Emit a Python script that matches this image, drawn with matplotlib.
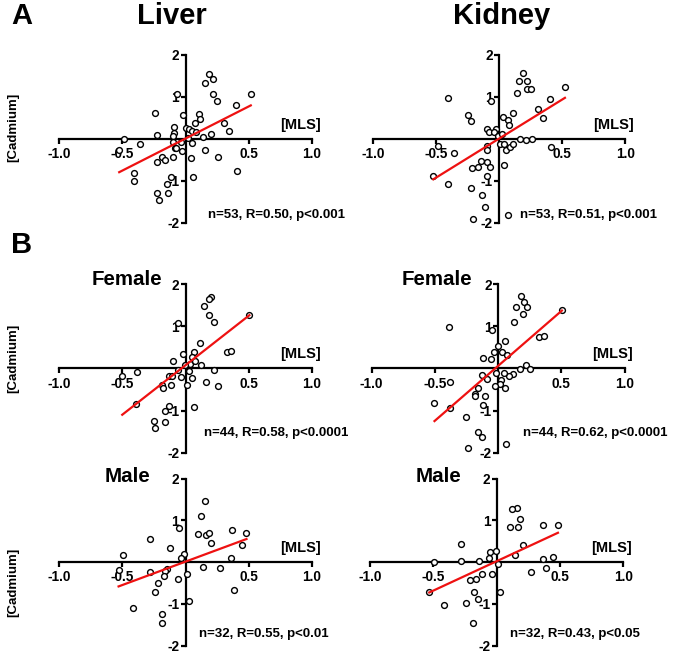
import numpy as np
import matplotlib
matplotlib.use("Agg")
import matplotlib.pyplot as plt

plt.rcParams['font.family'] = ['Liberation Sans', 'DejaVu Sans']
plt.rcParams['font.weight'] = 'bold'

#---- Donnees : [MLS] (x) et [Cadmium] (y)

liver_all_x = [0.187, 0.216, 0.155, -0.066, 0.216, 0.25, 0.516, 0.40, -0.245, -0.02,
               0.105, 0.113, 0.308, 0.347, -0.089, -0.089, -0.224, 0.0, 0.03, 0.076,
               0.053, 0.082, 0.205, 0.142, -0.484, -0.524, -0.358, -0.097, -0.097, -0.084,
               -0.03, -0.037, 0.02, 0.053, -0.074, 0.158, 0.258, -0.097, -0.187, -0.166,
               -0.224, 0.04, 0.41, -0.408, -0.408, -0.116, 0.06, -0.147, -0.139, -0.229,
               -0.21]
liver_all_y = [1.55, 1.43, 1.34, 1.06, 1.07, 0.91, 1.07, 0.81, 0.63, 0.58,
               0.59, 0.48, 0.39, 0.20, 0.28, 0.15, 0.10, 0.26, 0.25, 0.38,
               0.19, 0.17, 0.11, 0.04, -0.01, -0.26, -0.13, 0.06, -0.06, -0.22,
               -0.28, -0.06, 0.02, -0.10, -0.21, -0.26, -0.43, -0.42, -0.44, -0.49,
               -0.55, -0.46, -0.75, -0.82, -1.01, -0.90, -0.91, -1.07, -1.29, -1.29,
               -1.46]

kidney_all_x = [0.193, 0.158, 0.222, 0.219, 0.256, 0.145, 0.522, -0.406, -0.061, 0.404,
                0.311, 0.351, 0.113, -0.245, -0.222, 0.032, 0.069, 0.079, -0.098, -0.082,
                -0.026, -0.037, -0.011, 0.026, 0.164, 0.211, 0.264, -0.48, -0.354, -0.098,
                -0.092, 0.011, 0.037, 0.058, 0.09, 0.113, 0.414, -0.142, -0.169, -0.216,
                -0.098, -0.069, 0.042, -0.52, -0.406, -0.222, -0.098, -0.132, -0.111, -0.203,
                0.069]
kidney_all_y = [1.56, 1.39, 1.39, 1.20, 1.20, 1.10, 1.25, 0.98, 0.91, 0.96,
                0.72, 0.50, 0.63, 0.56, 0.44, 0.52, 0.45, 0.33, 0.25, 0.17,
                0.25, 0.17, 0.06, 0.11, 0.01, -0.02, -0.01, -0.16, -0.33, -0.17,
                -0.25, -0.11, -0.13, -0.27, -0.20, -0.13, -0.20, -0.52, -0.67, -0.70,
                -0.54, -0.67, -0.63, -0.88, -1.08, -1.17, -0.87, -1.33, -1.63, -1.90,
                -1.80]

liver_fem_x = [0.205, 0.182, 0.147, 0.189, 0.226, 0.505, -0.058, 0.116, 0.326, 0.358,
               -0.016, 0.066, 0.053, -0.097, 0.032, 0.079, 0.121, -0.005, -0.058, 0.024,
               0.224, -0.505, -0.382, -0.134, -0.103, -0.032, 0.05, 0.166, 0.255, -0.184,
               -0.176, -0.118, 0.013, -0.39, -0.129, -0.163, 0.066, -0.25, -0.24, -0.161]
liver_fem_y = [1.70, 1.65, 1.49, 1.26, 1.10, 1.26, 1.07, 0.59, 0.39, 0.42,
               0.33, 0.39, 0.26, 0.17, 0.11, 0.17, 0.07, 0.09, -0.04, -0.06,
               -0.04, -0.18, -0.09, -0.17, -0.18, -0.20, -0.22, -0.32, -0.43, -0.39,
               -0.47, -0.40, -0.40, -0.84, -0.89, -1.02, -0.91, -1.25, -1.42, -1.28]

kidney_fem_x = [0.183, 0.209, 0.146, 0.227, 0.194, 0.125, 0.505, -0.386, -0.051, 0.328,
                0.362, 0.057, 0.0, -0.033, 0.034, 0.07, -0.115, -0.057, 0.225, 0.175,
                0.256, 0.12, 0.086, 0.051, -0.014, 0.022, 0.015, -0.025, 0.054, -0.13,
                -0.09, -0.383, -0.502, -0.383, -0.162, -0.18, -0.182, -0.099, -0.117, -0.252,
                -0.16, -0.128, 0.064, -0.24]
kidney_fem_y = [1.72, 1.57, 1.46, 1.46, 1.30, 1.10, 1.38, 0.99, 0.92, 0.74,
                0.77, 0.66, 0.52, 0.38, 0.39, 0.32, 0.25, 0.21, 0.07, -0.02,
                -0.02, -0.13, -0.17, -0.12, -0.12, -0.27, -0.36, -0.42, -0.47, -0.15,
                -0.25, -0.32, -0.81, -0.95, -0.47, -0.60, -0.66, -0.66, -0.86, -1.15,
                -1.50, -1.62, -1.79, -1.90]

liver_male_x = [0.155, 0.121, -0.05, 0.10, 0.166, 0.182, 0.366, 0.482, -0.282, 0.20,
                0.445, -0.121, -0.495, -0.01, -0.034, 0.361, 0.139, 0.271, -0.529, -0.284,
                -0.147, -0.161, -0.168, 0.013, -0.061, -0.216, -0.242, 0.387, 0.024, -0.418,
                -0.184, -0.187]
liver_male_y = [1.45, 1.11, 0.81, 0.66, 0.64, 0.70, 0.76, 0.70, 0.54, 0.46,
                0.41, 0.33, 0.17, 0.20, 0.10, 0.09, -0.11, -0.14, -0.20, -0.24,
                -0.17, -0.21, -0.34, -0.29, -0.40, -0.51, -0.71, -0.68, -0.94, -1.10,
                -1.24, -1.47]

kidney_male_x = [0.161, 0.124, 0.184, 0.103, 0.171, 0.368, 0.484, -0.279, 0.205, -0.05,
                 -0.008, -0.058, 0.142, 0.363, 0.447, -0.492, -0.284, -0.137, 0.011, 0.389,
                 0.274, -0.116, -0.037, -0.213, -0.161, -0.532, 0.029, -0.182, -0.15, -0.24,
                 -0.413, -0.184]
kidney_male_y = [1.29, 1.26, 1.03, 0.83, 0.83, 0.89, 0.88, 0.43, 0.40, 0.24,
                 0.26, 0.09, 0.16, 0.06, 0.12, 0.0, 0.03, 0.02, -0.04, -0.14,
                 -0.24, -0.28, -0.28, -0.44, -0.40, -0.71, -0.73, -0.73, -0.89, -0.99,
                 -1.04, -1.45]

#---- Droites de regression (extremites)
fit_x = [[-0.524, 0.516], [-0.52, 0.522],
         [-0.50, 0.505], [-0.502, 0.505],
         [-0.529, 0.482], [-0.532, 0.484]]
fit_y = [[-0.79, 0.80], [-0.96, 0.98],
         [-1.10, 1.26], [-1.25, 1.37],
         [-0.585, 0.55], [-0.73, 0.70]]

stats = ["n=53, R=0.50, p<0.001", "n=53, R=0.51, p<0.001",
         "n=44, R=0.58, p<0.0001", "n=44, R=0.62, p<0.0001",
         "n=32, R=0.55, p<0.01", "n=32, R=0.43, p<0.05"]
subtitles = [None, None, "Female", "Female", "Male", "Male"]

panels_x = [liver_all_x, kidney_all_x, liver_fem_x, kidney_fem_x, liver_male_x, kidney_male_x]
panels_y = [liver_all_y, kidney_all_y, liver_fem_y, kidney_fem_y, liver_male_y, kidney_male_y]

#---- Mise en page : axes en pixels x(-1), x(1), y(2), y(-2)
W, H = 684, 655
boxes = [(59, 312, 55, 223), (372.7, 625.3, 55, 223),
         (59, 312, 284, 452.7), (371.5, 624.5, 284, 452.7),
         (59, 312, 478.5, 645.5), (370, 623.3, 478.5, 645.5)]
stats_pos = [(0.18, -1.81), (0.17, -1.81),
             (0.15, -1.53), (0.20, -1.53),
             (0.11, -1.72), (0.105, -1.72)]
sub_pos = [None, None, (-0.46, 2.1), (-0.48, 2.1), (-0.46, 2.04), (-0.46, 2.04)]

fig = plt.figure(figsize=(W / 100, H / 100), dpi=100)

for i in range(6):
    x0, x1, yt, yb = boxes[i]
    ax = fig.add_axes([x0 / W, 1 - yb / H, (x1 - x0) / W, (yb - yt) / H])
    ax.set_xlim(-1, 1)
    ax.set_ylim(-2, 2)
    ax.patch.set_alpha(0)

    for s in ['top', 'right']:
        ax.spines[s].set_visible(False)
    ax.spines['left'].set_position('zero')
    ax.spines['bottom'].set_position('zero')
    ax.spines['left'].set_linewidth(1.6)
    ax.spines['bottom'].set_linewidth(1.6)

    ax.set_xticks([-1.0, -0.5, 0.5, 1.0])
    ax.set_xticklabels(["-1.0", "-0.5", "0.5", "1.0"])
    ax.set_yticks([-2, -1, 1, 2])
    ax.set_yticklabels(["-2", "-1", "1", "2"])
    ax.tick_params(axis='x', direction='out', length=3.5, width=1.6, pad=2.5, labelsize=9.8)
    ax.tick_params(axis='y', direction='out', length=3.5, width=1.6, pad=1, labelsize=9.8)
    for lab in ax.get_xticklabels() + ax.get_yticklabels():
        lab.set_fontweight('bold')

    ax.plot(panels_x[i], panels_y[i], 'o', ms=4.2, mfc='white', mec='black',
            mew=1.0, zorder=3, clip_on=False)
    ax.plot(fit_x[i], fit_y[i], '-', color='#ee1111', lw=1.6, zorder=4, clip_on=False)

    ax.text(1.07, 0.17, "[MLS]", ha='right', va='bottom', fontsize=10.5,
            fontweight='bold', clip_on=False)
    ax.text(stats_pos[i][0], stats_pos[i][1], stats[i], ha='left', va='center',
            fontsize=9.5, fontweight='bold', clip_on=False)
    if subtitles[i] is not None:
        ax.text(sub_pos[i][0], sub_pos[i][1], subtitles[i], ha='center', va='center',
                fontsize=14.8, fontweight='bold', clip_on=False)

#---- Titres et etiquettes
fig.text(22 / W, 1 - 16 / H, "A", ha='center', va='center', fontsize=21, fontweight='bold')
fig.text(22 / W, 1 - 245 / H, "B", ha='center', va='center', fontsize=21, fontweight='bold')
fig.text(172 / W, 1 - 16 / H, "Liver", ha='center', va='center', fontsize=21, fontweight='bold')
fig.text(502 / W, 1 - 16 / H, "Kidney", ha='center', va='center', fontsize=21, fontweight='bold')
for yc in [127, 358, 582]:
    fig.text(13 / W, 1 - yc / H, "[Cadmium]", ha='center', va='center', rotation=90,
             fontsize=9.5, fontweight='bold')

fig.savefig("out.png", dpi=100)
